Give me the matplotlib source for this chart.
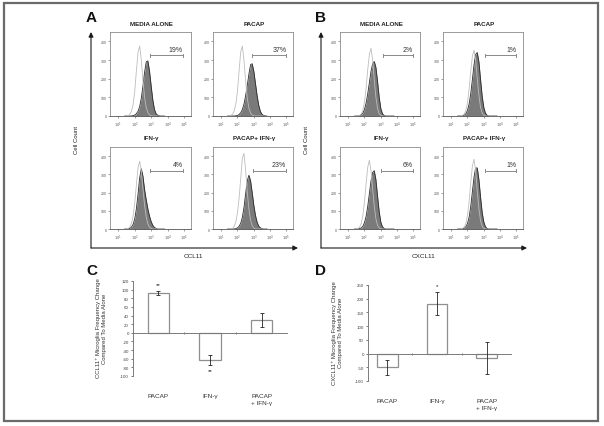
import matplotlib
matplotlib.use('Agg')
import matplotlib.pyplot as plt
from matplotlib.patches import Rectangle

plt.rcParams['font.family'] = ['Liberation Sans', 'DejaVu Sans']

# ---------------- data ----------------
# log10 fluorescence grid shared by every histogram
LOGX = [1.4, 1.5, 1.6, 1.7, 1.8, 1.9, 2.0, 2.1, 2.2, 2.3, 2.4, 2.5, 2.6,
        2.7, 2.8, 2.9, 3.0, 3.1, 3.2, 3.3, 3.4, 3.5, 3.6, 3.7, 3.8]

hist_titles = ["MEDIA ALONE", "PACAP", "IFN-γ", "PACAP+ IFN-γ"]

# Panel A (CCL11): isotype (open) and stained (filled) counts
A_open = [
    [0, 0, 2, 8, 25, 60, 130, 240, 340, 375, 300, 190, 100, 45, 18, 6, 2, 0, 0, 0, 0, 0, 0, 0, 0],
    [0, 0, 3, 10, 28, 65, 135, 245, 345, 375, 295, 185, 95, 42, 16, 5, 1, 0, 0, 0, 0, 0, 0, 0, 0],
    [0, 0, 3, 10, 30, 70, 140, 240, 335, 372, 320, 220, 130, 65, 28, 10, 3, 0, 0, 0, 0, 0, 0, 0, 0],
    [0, 0, 0, 4, 15, 40, 90, 170, 280, 390, 415, 320, 200, 110, 50, 18, 6, 0, 0, 0, 0, 0, 0, 0, 0],
]
A_fill = [
    [0, 0, 0, 0, 0, 2, 5, 12, 25, 50, 95, 160, 235, 290, 295, 240, 160, 85, 35, 12, 4, 1, 0, 0, 0],
    [0, 0, 0, 0, 0, 1, 3, 8, 18, 35, 65, 110, 165, 225, 275, 280, 240, 175, 110, 58, 25, 9, 3, 1, 0],
    [0, 0, 0, 3, 10, 25, 55, 110, 190, 280, 330, 290, 215, 160, 110, 70, 40, 20, 8, 3, 0, 0, 0, 0, 0],
    [0, 0, 0, 0, 0, 2, 6, 15, 32, 65, 120, 195, 265, 295, 265, 200, 130, 75, 38, 16, 6, 2, 0, 0, 0],
]
A_pct = ["19%", "37%", "4%", "23%"]
A_gate_lo = [2.90, 2.88, 2.94, 2.92]
A_gate_hi = [4.92, 5.00, 4.96, 4.98]

# Panel B (CXCL11)
B_open = [
    [0, 0, 0, 3, 10, 30, 75, 150, 250, 330, 363, 300, 190, 100, 40, 12, 3, 0, 0, 0, 0, 0, 0, 0, 0],
    [0, 0, 0, 3, 10, 30, 70, 145, 240, 320, 353, 300, 200, 110, 45, 15, 4, 0, 0, 0, 0, 0, 0, 0, 0],
    [0, 0, 3, 10, 30, 75, 150, 250, 340, 377, 320, 220, 125, 55, 20, 6, 0, 0, 0, 0, 0, 0, 0, 0, 0],
    [0, 0, 0, 3, 10, 30, 75, 150, 255, 345, 383, 320, 205, 110, 45, 15, 4, 0, 0, 0, 0, 0, 0, 0, 0],
]
B_fill = [
    [0, 0, 0, 2, 6, 15, 35, 70, 120, 180, 240, 280, 292, 260, 185, 100, 40, 12, 3, 0, 0, 0, 0, 0, 0],
    [0, 0, 0, 1, 5, 12, 30, 65, 120, 195, 275, 330, 340, 290, 195, 105, 45, 15, 4, 0, 0, 0, 0, 0, 0],
    [0, 0, 0, 2, 6, 15, 35, 70, 125, 195, 265, 310, 320, 270, 180, 95, 38, 12, 3, 0, 0, 0, 0, 0, 0],
    [0, 0, 0, 1, 4, 12, 30, 65, 125, 205, 285, 335, 335, 270, 175, 90, 38, 12, 3, 0, 0, 0, 0, 0, 0],
]
B_pct = ["2%", "1%", "6%", "1%"]
B_gate_lo = [3.15, 3.07, 2.99, 3.07]
B_gate_hi = [4.96, 4.98, 4.96, 4.98]

gate_y = [325, 325, 320, 320]

hist_yticks = [0, 100, 200, 300, 400]
hist_xticks = [1, 2, 3, 4, 5]
hist_xticklabels = [r'$10^{1}$', r'$10^{2}$', r'$10^{3}$', r'$10^{4}$', r'$10^{5}$']

# Panels C / D bar charts
bar_cats = ["PACAP", "IFN-γ", "PACAP\n+ IFN-γ"]
C_vals = [92, -63, 30]
C_err = [5, 11, 16]
C_sig = ["**", "**", ""]
D_vals = [-50, 181, -16]
D_err = [28, 42, 60]
D_sig = ["", "*", ""]
C_yticks = list(range(-100, 121, 20))
D_yticks = list(range(-100, 251, 50))

# ---------------- figure ----------------
W, H = 604, 427
fig = plt.figure(figsize=(W / 100, H / 100), dpi=100)


def ax_px(x0, y0, x1, y1, **kw):
    return fig.add_axes([x0 / W, 1 - y1 / H, (x1 - x0) / W, (y1 - y0) / H], **kw)


ov = fig.add_axes([0, 0, 1, 1], zorder=0)
ov.set_xlim(0, W)
ov.set_ylim(H, 0)
ov.axis('off')
ov.add_patch(Rectangle((4, 4), 594, 418, fill=False, edgecolor='#6a6a6a', lw=1.6))

# big axis arrows
arr = dict(arrowstyle='-|>', color='#1a1a1a', lw=0.8, mutation_scale=7, shrinkA=0, shrinkB=0)
for xa, xend in [(91, 298), (321, 527)]:
    ov.annotate('', xy=(xa, 33), xytext=(xa, 249), arrowprops=arr)
    ov.annotate('', xy=(xend, 249), xytext=(xa, 249), arrowprops=arr)
    ov.text(xa - 14, 140, 'Cell Count', rotation=90, ha='center', va='center', fontsize=4.3, color='#222')
ov.text(193, 257, 'CCL11', ha='center', va='center', fontsize=4.6, color='#222')
ov.text(423, 257, 'CXCL11', ha='center', va='center', fontsize=4.6, color='#222')

for lab, x, y in [('A', 91, 18), ('B', 321, 18), ('C', 92, 271), ('D', 320, 271)]:
    ov.text(x, y, lab, ha='center', va='center', fontsize=11, fontweight='bold', color='#111')


def hist_panel(box, title, op, fl, glo, ghi, gy, pct):
    x0, y0, x1, y1 = box
    ax = ax_px(x0, y0, x1, y1, zorder=2)
    ax.fill_between(LOGX, fl, 0, color='#7a7a7a', lw=0, zorder=2)
    ax.plot(LOGX, fl, color='#2b2b2b', lw=0.6, zorder=3)
    ax.plot(LOGX, op, color='#bdbdbd', lw=0.6, zorder=4)
    ax.set_xlim(0.5, 5.4)
    ax.set_ylim(0, 450)
    for s in ax.spines.values():
        s.set_color('#8c8c8c')
        s.set_linewidth(0.6)
    ax.spines['bottom'].set_color('#555555')
    ax.set_yticks(hist_yticks)
    ax.set_yticklabels([str(v) for v in hist_yticks])
    ax.set_xticks(hist_xticks)
    ax.set_xticklabels(hist_xticklabels)
    ax.tick_params(length=1.2, width=0.4, pad=1.2, labelsize=2.6, colors='#555555')
    ax.plot([glo, ghi], [gy, gy], color='#8a8a8a', lw=0.7, zorder=5)
    for gx in (glo, ghi):
        ax.plot([gx, gx], [gy - 9, gy + 9], color='#8a8a8a', lw=0.7, zorder=5)
    ax.text(ghi, gy + 14, pct, ha='right', va='bottom', fontsize=5, color='#333')
    ov.text((x0 + x1) / 2 + 1, y0 - 9, title, ha='center', va='center',
            fontsize=4.5, fontweight='bold', color='#222')
    return ax


boxes_A = [(110, 33, 190.7, 117), (213, 33, 293, 117), (110, 148, 190.7, 230), (213, 148, 293, 230)]
boxes_B = [(340, 33, 420, 117), (443, 33, 523, 117), (340, 148, 420, 230), (443, 148, 523, 230)]
for i in range(4):
    hist_panel(boxes_A[i], hist_titles[i], A_open[i], A_fill[i], A_gate_lo[i], A_gate_hi[i], gate_y[i], A_pct[i])
    hist_panel(boxes_B[i], hist_titles[i], B_open[i], B_fill[i], B_gate_lo[i], B_gate_hi[i], gate_y[i], B_pct[i])


def bar_panel(box, vals, errs, sigs, yticks, ylim, xlim, ylabel, ylab_x):
    x0, y0, x1, y1 = box
    ax = ax_px(x0, y0, x1, y1, zorder=2)
    ax.patch.set_alpha(0)
    xs = list(range(len(vals)))
    ax.bar(xs, vals, width=0.41, color='white', edgecolor='#8f8f8f', lw=0.9, zorder=2)
    ax.errorbar(xs, vals, yerr=errs, fmt='none', ecolor='#222', elinewidth=0.6,
                capsize=1.6, capthick=0.6, zorder=3)
    for x, v, e, s in zip(xs, vals, errs, sigs):
        if s:
            if v >= 0:
                ax.annotate(s, (x, v + e), xytext=(0, 3), textcoords='offset points',
                            ha='center', va='bottom', fontsize=4.5, color='#222')
            else:
                ax.annotate(s, (x, v - e), xytext=(0, -2), textcoords='offset points',
                            ha='center', va='top', fontsize=4.5, color='#222')
    ax.set_xlim(*xlim)
    ax.set_ylim(*ylim)
    ax.spines['top'].set_visible(False)
    ax.spines['right'].set_visible(False)
    ax.spines['bottom'].set_position(('data', 0))
    ax.spines['bottom'].set_color('#7a7a7a')
    ax.spines['left'].set_color('#7a7a7a')
    ax.spines['bottom'].set_linewidth(0.7)
    ax.spines['left'].set_linewidth(0.7)
    ax.set_yticks(yticks)
    ax.set_yticklabels([str(v) for v in yticks])
    ax.set_xticks([0.5, 1.5])
    ax.set_xticklabels([])
    ax.tick_params(axis='y', length=1.5, width=0.5, pad=1.5, labelsize=3.2, colors='#444')
    ax.tick_params(axis='x', length=1.5, width=0.5, direction='inout', colors='#444')
    for x, c in zip(xs, bar_cats):
        ax.text(x, -0.18, c, transform=ax.get_xaxis_transform(), ha='center', va='top',
                multialignment='left', fontsize=4.6, color='#333', linespacing=1.5)
    ov.text(ylab_x, (y0 + y1) / 2 - 1, ylabel, rotation=90, ha='center', va='center',
            fontsize=4.3, color='#333', linespacing=1.3)
    return ax


bar_panel((133, 282, 287, 377), C_vals, C_err, C_sig, C_yticks, (-100, 120), (-0.49, 2.49),
          "CCL11⁺ Microglia Frequency Change\nCompared To Media Alone", 101)
bar_panel((368, 286, 511, 382), D_vals, D_err, D_sig, D_yticks, (-100, 250), (-0.39, 2.49),
          "CXCL11⁺ Microglia Frequency Change\nCompared To Media Alone", 337)

fig.savefig('out.png', dpi=100)
